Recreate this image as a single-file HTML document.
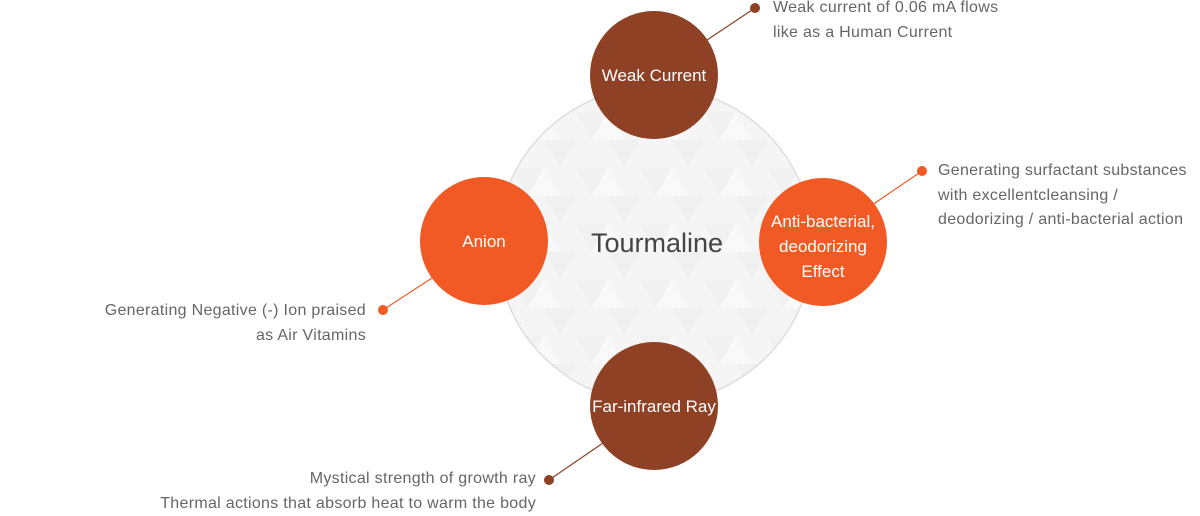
<!DOCTYPE html>
<html><head><meta charset="utf-8"><style>
html,body{margin:0;padding:0;background:#fff;}
body{width:1200px;height:515px;position:relative;overflow:hidden;font-family:"Liberation Sans",sans-serif;}
.t{position:absolute;color:#666;font-size:16px;letter-spacing:0.3px;line-height:24.5px;white-space:nowrap;}
</style></head><body>
<svg width="1200" height="515" style="position:absolute;left:0;top:0">
<defs>
<pattern id="tri" width="64" height="56" patternUnits="userSpaceOnUse">
<rect width="64" height="56" fill="#f5f5f5"/>
<polygon points="0,0 32,0 16,28" fill="#f1f1f1"/>
<polygon points="32,28 64,28 48,56" fill="#f0f0f0"/>
<polygon points="16,28 48,28 32,0" fill="#f9f9f9"/>
</pattern>
</defs>
<circle cx="655" cy="245" r="158" fill="url(#tri)" stroke="#ddd" stroke-width="1.5"/>
<g stroke-width="1.2">
<line x1="755" y1="8" x2="707" y2="40" stroke="#8e4125"/>
<line x1="922" y1="171" x2="872" y2="205" stroke="#f15a24"/>
<line x1="383" y1="310" x2="432" y2="278" stroke="#f15a24"/>
<line x1="549" y1="480" x2="603" y2="443" stroke="#8e4125"/>
</g>
<circle cx="755" cy="8" r="5" fill="#8e4125"/>
<circle cx="922" cy="171" r="5" fill="#f15a24"/>
<circle cx="383" cy="310" r="5" fill="#f15a24"/>
<circle cx="549" cy="480" r="5" fill="#8e4125"/>
<circle cx="654" cy="75" r="64" fill="#8e4125"/>
<circle cx="484" cy="241" r="64" fill="#f15a24"/>
<circle cx="823" cy="242" r="64" fill="#f15a24"/>
<circle cx="654" cy="406" r="64" fill="#8e4125"/>
<g font-family="Liberation Sans, sans-serif" fill="#fff" font-size="17" text-anchor="middle">
<text x="654" y="81">Weak Current</text>
<text x="484" y="247">Anion</text>
<text x="823" y="227">Anti-bacterial,</text>
<text x="823" y="252">deodorizing</text>
<text x="823" y="277">Effect</text>
<text x="654" y="412">Far-infrared Ray</text>
</g>
<text x="657" y="252" font-family="Liberation Sans, sans-serif" font-size="27" fill="#444" text-anchor="middle">Tourmaline</text>
</svg>
<div class="t" style="left:773px;top:-4px">Weak current of 0.06 mA flows<br>like as a Human Current</div>
<div class="t" style="left:938px;top:159px">Generating surfactant substances<br>with excellentcleansing /<br>deodorizing / anti-bacterial action</div>
<div class="t" style="right:834px;top:299px;text-align:right">Generating Negative (-) Ion praised<br>as Air Vitamins</div>
<div class="t" style="right:664px;top:467px;text-align:right">Mystical strength of growth ray<br>Thermal actions that absorb heat to warm the body</div>
</body></html>
